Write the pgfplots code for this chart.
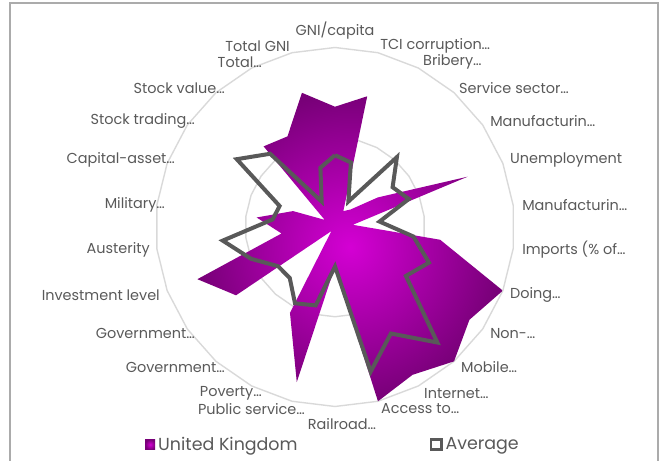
\documentclass[border=0pt]{standalone}
\usepackage{fontspec}
\setmainfont{Poppins}
\usepackage{pgfplots}
\usepackage{pgfplotstable}
\pgfplotsset{compat=1.18}

\definecolor{txt}{HTML}{595959}
\definecolor{ringc}{HTML}{D9D9D9}
\definecolor{ukin}{HTML}{D400D4}
\definecolor{ukout}{HTML}{780078}
\definecolor{avgc}{HTML}{595959}
\definecolor{framec}{HTML}{ABABAB}

% spoke i (clockwise from top), radius 0 = centre, 1 = outer ring
% last row repeats the first one to close the polygons
\pgfplotstableread{
i  uk    avg
0  0.67  0.40
1  0.75  0.37
2  0.10  0.16
3  0.13  0.52
4  0.29  0.39
5  0.79  0.44
6  0.10  0.25
7  0.59  0.44
8  1.00  0.56
9  0.91  0.48
10 1.00  0.86
11 0.93  0.67
12 1.00  0.83
13 0.22  0.22
14 0.89  0.45
15 0.54  0.48
16 0.03  0.38
17 0.67  0.385
18 0.82  0.50
19 0.30  0.63
20 0.44  0.35
21 0.25  0.33
22 0.07  0.665
23 0.60  0.545
24 0.57  0.16
25 0.77  0.34
26 0.67  0.40
}\radar

\begin{document}
\begin{tikzpicture}[x=1bp,y=1bp,
    lbl/.style={font=\fontsize{14.5}{17}\selectfont, text=txt, inner sep=0pt}]
\useasboundingbox (0,0) rectangle (662,461);
\draw[framec, line width=1.3bp] (10,-10) rectangle (658,458);
\begin{axis}[
    at={(335bp,234bp)}, anchor=origin,
    x=179.5bp, y=179.5bp,
    xmin=-1.2, xmax=1.2, ymin=-1.2, ymax=1.2,
    hide axis, clip=false,
    legend columns=2,
    legend style={at={(axis cs:-1.075,-1.212)}, anchor=west, draw=none, fill=none,
        font=\fontsize{17.5}{20}\selectfont, text=txt,
        nodes={inner xsep=3bp},
        /tikz/every even column/.append style={column sep=129bp}},
]
% grid rings
\addplot[ringc, line width=1.4bp, data cs=polar, forget plot]
    table[x expr={90-\thisrow{i}*360/26}, y expr={0.5}] {\radar};
\addplot[ringc, line width=1.4bp, data cs=polar, forget plot]
    table[x expr={90-\thisrow{i}*360/26}, y expr={1}] {\radar};

\addplot[draw=none, inner color=ukin, outer color=ukout, data cs=polar,
    legend image code/.code={\shade[inner color=ukin, outer color=ukout] (0bp,-5bp) rectangle (10bp,5bp);}]
    table[x expr={90-\thisrow{i}*360/26}, y=uk] {\radar};
\addlegendentry{United Kingdom}

\addplot[avgc, line width=4bp, data cs=polar,
    legend image code/.code={\draw[avgc, line width=2.8bp, fill=white] (1.4bp,-5bp) rectangle (11.5bp,5bp);}]
    table[x expr={90-\thisrow{i}*360/26}, y=avg] {\radar};
\addlegendentry{Average}

% category labels
\node[lbl, anchor=center] at (axis cs:0,1.092) {GNI/capita};
\node[lbl, anchor=west] at (axis cs:0.251,1.008) {TCI corruption…};
\node[lbl, anchor=west] at (axis cs:0.490,0.919) {Bribery…};
\node[lbl, anchor=west] at (axis cs:0.691,0.774) {Service sector…};
\node[lbl, anchor=west] at (axis cs:0.864,0.591) {Manufacturin…};
\node[lbl, anchor=west] at (axis cs:0.975,0.373) {Unemployment};
\node[lbl, anchor=west] at (axis cs:1.042,0.123) {Manufacturin…};
\node[lbl, anchor=west] at (axis cs:1.042,-0.128) {Imports (\% of…};
\node[lbl, anchor=west] at (axis cs:0.975,-0.379) {Doing…};
\node[lbl, anchor=west] at (axis cs:0.864,-0.591) {Non-…};
\node[lbl, anchor=west] at (axis cs:0.702,-0.780) {Mobile…};
\node[lbl, anchor=west] at (axis cs:0.496,-0.925) {Internet…};
\node[lbl, anchor=west] at (axis cs:0.256,-1.014) {Access to…};
\node[lbl, anchor=center] at (axis cs:0.039,-1.097) {Railroad…};
\node[lbl, anchor=east] at (axis cs:-0.167,-1.014) {Public service…};
\node[lbl, anchor=east] at (axis cs:-0.407,-0.925) {Poverty…};
\node[lbl, anchor=east] at (axis cs:-0.613,-0.780) {Government…};
\node[lbl, anchor=east] at (axis cs:-0.780,-0.591) {Government…};
\node[lbl, anchor=east] at (axis cs:-0.975,-0.379) {Investment level};
\node[lbl, anchor=east] at (axis cs:-1.031,-0.128) {Austerity};
\node[lbl, anchor=east] at (axis cs:-0.947,0.123) {Military…};
\node[lbl, anchor=east] at (axis cs:-0.891,0.373) {Capital-asset…};
\node[lbl, anchor=east] at (axis cs:-0.780,0.591) {Stock trading…};
\node[lbl, anchor=east] at (axis cs:-0.613,0.774) {Stock value…};
\node[lbl, anchor=east] at (axis cs:-0.407,0.919) {Total…};
\node[lbl, anchor=east] at (axis cs:-0.251,1.008) {Total GNI};
\end{axis}
\end{tikzpicture}
\end{document}
